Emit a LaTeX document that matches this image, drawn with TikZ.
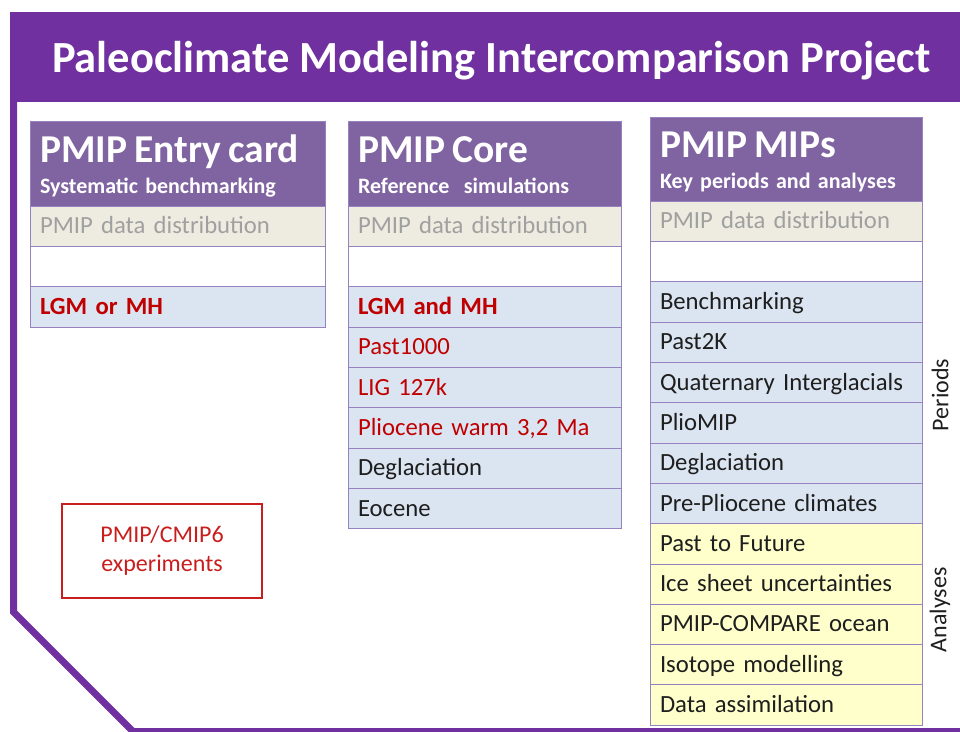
\documentclass[tikz,border=0pt]{standalone}
\usepackage{fontspec}
\setmainfont{Carlito}
\usetikzlibrary{positioning}

\definecolor{framepurple}{RGB}{112,48,160}
\definecolor{headpurple}{RGB}{128,100,162}
\definecolor{rowline}{RGB}{150,130,190}
\definecolor{beige}{RGB}{238,236,225}
\definecolor{paleblue}{RGB}{219,229,241}
\definecolor{paleyellow}{RGB}{255,255,204}
\definecolor{graytext}{RGB}{160,160,160}
\definecolor{darktext}{RGB}{30,30,30}
\definecolor{redtext}{RGB}{192,0,0}
\definecolor{boxred}{RGB}{200,30,30}

\begin{document}
\begin{tikzpicture}[x=1pt,y=-1pt,
      headblock/.style={draw=rowline,fill=headpurple,text=white,rectangle,anchor=north west,
        minimum height=85pt,inner xsep=10pt,inner ysep=0pt,outer sep=0pt,align=left,
        text height=32pt,text depth=35pt,font=\bfseries\fontsize{22}{31}\selectfont},
      rowblock/.style={draw=rowline,fill=paleblue,text=darktext,rectangle,
        minimum height=40.3pt,inner xsep=10pt,inner ysep=0pt,outer sep=0pt,align=left,
        text height=20pt,text depth=4.5pt,font=\fontsize{24.7}{28}\selectfont},
      datablock/.style={rowblock,fill=beige,text=graytext},
      emptyblock/.style={rowblock,fill=white},
      yellowblock/.style={rowblock,fill=paleyellow},
      redrow/.style={text=redtext},
      sidelabel/.style={rotate=90,text=darktext,font=\fontsize{24}{28}\selectfont},
      colone/.style={text width=275pt},
      coltwo/.style={text width=253pt},
      colthree/.style={text width=252pt},
      node distance=0pt]
      \useasboundingbox (0,0) rectangle (960,731);

      % Frame
      \fill[framepurple] (10,12) rectangle (960,102);
      \draw[framepurple,line width=7pt] (13.5,100) -- (13.5,612) -- (133,731.5) -- (975,731.5);
      \node[text=white,anchor=base,font=\bfseries\fontsize{44.5}{50}\selectfont] (title) at (491.5,72)
        {Paleoclimate Modeling Intercomparison Project};

      % Entry card
      \node[headblock,colone]                  (entry)      at (30,121)
        {{\fontsize{39.5}{31}\selectfont PMIP Entry card}\\Systematic benchmarking};
      \node[datablock,colone,below=of entry]      (entrydata)  {PMIP data distribution};
      \node[emptyblock,colone,below=of entrydata] (entryempty) {};
      \node[rowblock,colone,redrow,below=of entryempty,font=\bfseries\fontsize{24.7}{28}\selectfont] (entrylgm) {LGM or MH};

      % Core
      \node[headblock,coltwo]                  (core)       at (348,121)
        {{\fontsize{39.5}{31}\selectfont PMIP Core}\\Reference\ \ simulations};
      \node[datablock,coltwo,below=of core]        (coredata)   {PMIP data distribution};
      \node[emptyblock,coltwo,below=of coredata]   (coreempty)  {};
      \node[rowblock,coltwo,redrow,below=of coreempty,font=\bfseries\fontsize{24.7}{28}\selectfont] (corelgm) {LGM and MH};
      \node[rowblock,coltwo,redrow,below=of corelgm]  (corepast)   {Past1000};
      \node[rowblock,coltwo,redrow,below=of corepast] (corelig)    {LIG 127k};
      \node[rowblock,coltwo,redrow,below=of corelig]  (coreplio)   {Pliocene warm 3,2 Ma};
      \node[rowblock,coltwo,below=of coreplio]        (coredegl)   {Deglaciation};
      \node[rowblock,coltwo,below=of coredegl]        (coreeoc)    {Eocene};

      % MIPs
      \node[headblock,colthree,minimum height=84pt] (mips)      at (650,117)
        {{\fontsize{39.5}{31}\selectfont PMIP MIPs}\\Key periods and analyses};
      \node[datablock,colthree,below=of mips]         (mipsdata)  {PMIP data distribution};
      \node[emptyblock,colthree,below=of mipsdata]    (mipsempty) {};
      \node[rowblock,colthree,below=of mipsempty]     (bench)     {Benchmarking};
      \node[rowblock,colthree,below=of bench]         (pasttwok)  {Past2K};
      \node[rowblock,colthree,below=of pasttwok]      (quat)      {Quaternary Interglacials};
      \node[rowblock,colthree,below=of quat]          (pliomip)   {PlioMIP};
      \node[rowblock,colthree,below=of pliomip]       (degl)      {Deglaciation};
      \node[rowblock,colthree,below=of degl]          (preplio)   {Pre-Pliocene climates};
      \node[yellowblock,colthree,below=of preplio]    (future)    {Past to Future};
      \node[yellowblock,colthree,below=of future]     (icesheet)  {Ice sheet uncertainties};
      \node[yellowblock,colthree,below=of icesheet]   (compare)   {PMIP-COMPARE ocean};
      \node[yellowblock,colthree,below=of compare]    (isotope)   {Isotope modelling};
      \node[yellowblock,colthree,below=of isotope]    (assim)     {Data assimilation};

      % Side labels
      \node[sidelabel] (periods)  at (940,395) {Periods};
      \node[sidelabel] (analyses) at (940,610) {Analyses};

      % Experiments box
      \node[draw=boxred,line width=2pt,text=boxred,minimum width=200pt,minimum height=94pt,
        align=center,font=\fontsize{24}{29}\selectfont] (cmip) at (162,551) {PMIP/CMIP6\\experiments};

    \end{tikzpicture}
\end{document}
